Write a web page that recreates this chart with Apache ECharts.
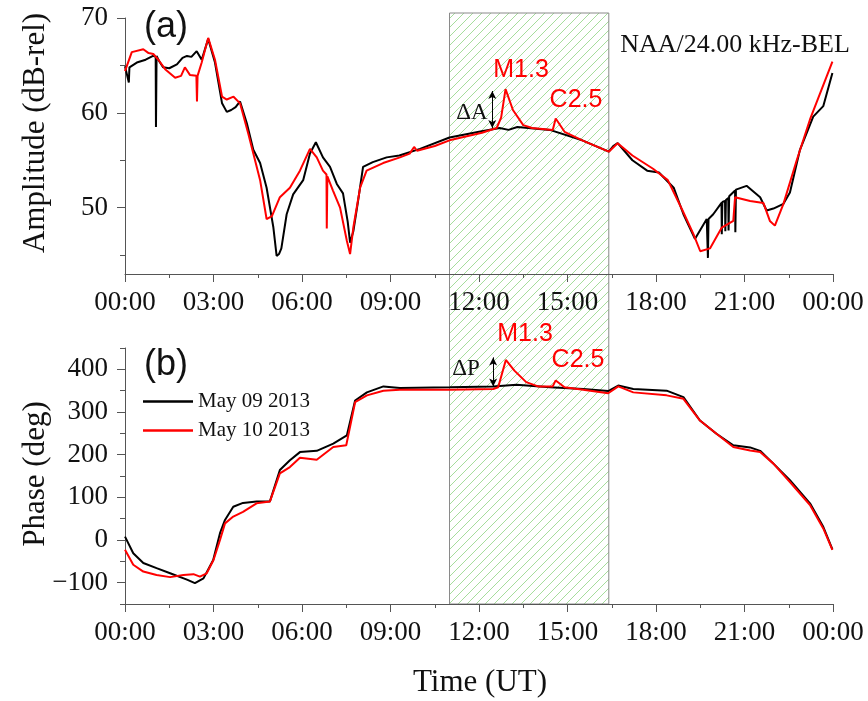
<!DOCTYPE html>
<html><head><meta charset="utf-8">
<script src="https://cdn.jsdelivr.net/npm/echarts@6/dist/echarts.min.js"></script>
<style>html,body{margin:0;padding:0;background:#fff}#c{width:868px;height:701px}</style>
</head><body><div id="c"></div>
<script>
// ---- data (hours UT, value) ----
const hourTickLabels = ['00:00','03:00','06:00','09:00','12:00','15:00','18:00','21:00','00:00'];
const ampTickLabels = [50, 60, 70];
const ampMinorTicks = [45, 55, 65];
const phaseTickLabels = [-100, 0, 100, 200, 300, 400];
const phaseMinorTicks = [-150, -50, 50, 150, 250, 350, 450];
const seriesNames = ['May 09 2013', 'May 10 2013'];
const flareWindow = [11.0, 16.4];

const ampMay09 = [[0,64.9],[0.05,64.7],[0.13,63.2],[0.15,64.8],[0.4,65.3],[0.7,65.6],[0.95,66.0],[1.04,65.9],[1.05,58.5],[1.07,66.0],[1.15,65.5],[1.29,64.8],[1.5,64.7],[1.76,65.1],[1.95,65.8],[2.1,66.0],[2.25,65.9],[2.43,66.5],[2.6,65.6],[2.82,67.8],[3.05,65.3],[3.29,61.0],[3.45,60.1],[3.6,60.3],[3.75,60.6],[3.9,61.2],[4.13,58.9],[4.35,56.1],[4.58,54.7],[4.8,52.1],[5.03,47.9],[5.14,44.9],[5.22,45.1],[5.3,45.7],[5.48,49.3],[5.7,51.4],[6.04,52.9],[6.27,55.7],[6.47,56.9],[6.71,55.3],[6.95,54.3],[7.18,52.5],[7.39,51.5],[7.55,48.5],[7.63,46.3],[7.74,47.5],[7.9,50.7],[8.07,54.3],[8.4,54.8],[8.87,55.3],[9.3,55.5],[10.0,56.2],[11.0,57.4],[12.0,58.0],[12.7,58.4],[13.0,58.2],[13.3,58.5],[14.4,58.2],[15.5,57.1],[16.4,55.9],[16.55,56.5],[16.7,56.8],[17.2,55.0],[17.7,53.9],[18.1,53.7],[18.6,52.1],[18.93,49.3],[19.32,46.7],[19.72,48.8],[19.76,44.7],[19.78,48.8],[19.94,49.3],[20.22,50.5],[20.23,47.2],[20.25,50.6],[20.34,50.7],[20.35,47.5],[20.37,50.8],[20.45,51.0],[20.46,47.6],[20.48,51.2],[20.68,51.8],[20.69,47.4],[20.71,51.9],[21.07,52.3],[21.53,51.1],[21.75,49.7],[21.98,49.9],[22.32,50.4],[22.54,51.6],[22.88,56.1],[23.33,59.6],[23.67,60.7],[23.98,64.2]];

const ampMay10 = [[0,64.4],[0.23,66.4],[0.62,66.7],[0.8,66.3],[0.96,66.2],[1.13,65.6],[1.36,64.6],[1.7,63.7],[1.9,63.9],[2.03,64.8],[2.2,64.0],[2.42,63.9],[2.44,61.2],[2.46,63.9],[2.6,65.3],[2.82,67.9],[3.05,65.6],[3.29,61.7],[3.45,61.4],[3.68,61.7],[3.9,61.0],[4.18,57.8],[4.35,55.7],[4.58,52.9],[4.8,48.8],[4.98,49.1],[5.25,51.1],[5.59,52.1],[5.93,53.9],[6.27,56.2],[6.5,55.3],[6.71,53.9],[6.83,53.5],[6.84,47.8],[6.86,53.3],[7.05,51.8],[7.29,50.0],[7.52,46.5],[7.63,45.1],[7.74,47.9],[7.97,52.1],[8.19,53.9],[8.75,54.7],[9.32,55.3],[9.65,55.7],[9.8,56.4],[9.9,56.0],[10.5,56.5],[11.0,57.1],[12.1,57.9],[12.6,58.4],[12.75,59.5],[12.9,62.5],[13.15,60.3],[13.5,58.7],[13.8,58.4],[14.5,58.2],[14.6,59.4],[14.9,58.0],[15.5,57.1],[16.4,55.9],[16.7,56.8],[17.2,55.5],[17.9,54.1],[18.4,52.9],[18.9,49.7],[19.27,47.2],[19.5,45.4],[19.83,45.7],[20.23,47.9],[20.62,48.6],[20.68,51.1],[21.19,50.7],[21.64,50.5],[21.86,48.6],[22.03,48.1],[22.32,50.4],[22.77,55.0],[23.22,59.3],[23.98,65.4]];

const phaseMay09 = [[0,8],[0.28,-31],[0.62,-54],[1.07,-66],[1.53,-78],[2.1,-93],[2.37,-101],[2.66,-90],[2.99,-47],[3.22,16],[3.39,47],[3.67,78],[4.0,87],[4.46,90],[4.91,90],[5.25,164],[5.59,187],[5.93,206],[6.5,209],[7.06,226],[7.52,245],[7.8,327],[8.2,346],[8.76,360],[9.32,356],[11.02,358],[12.48,360],[13.27,364],[14.41,358],[15.53,354],[16.38,349],[16.72,362],[17.23,354],[18.36,350],[18.93,335],[19.49,280],[20.05,249],[20.62,222],[21.19,217],[21.53,209],[21.98,179],[22.54,140],[23.22,86],[23.67,31],[23.98,-22]];

const phaseMay10 = [[0,-23],[0.28,-58],[0.62,-74],[1.07,-82],[1.53,-87],[1.98,-82],[2.32,-80],[2.54,-86],[2.77,-78],[3.0,-47],[3.22,0],[3.39,39],[3.67,55],[4.0,66],[4.46,86],[4.91,90],[5.25,156],[5.59,171],[5.93,193],[6.5,188],[7.06,218],[7.5,222],[7.8,323],[8.2,339],[8.76,350],[9.32,352],[11.02,352],[12.48,354],[12.65,358],[12.91,422],[13.2,397],[13.6,370],[14.0,360],[14.5,360],[14.6,374],[14.9,358],[15.53,352],[16.38,344],[16.72,360],[17.23,346],[18.36,339],[18.93,331],[19.49,280],[20.05,249],[20.62,218],[21.19,210],[21.53,206],[21.98,179],[22.54,136],[23.22,82],[23.67,27],[23.98,-23]];

const deltaAArrow = [[12.45, 62.3], [12.45, 58.4]];
const deltaPArrow = [[12.48, 428], [12.48, 360]];

// ---- chart ----
const SERIF = 'Liberation Serif';
const SANS = 'Liberation Sans';
const chart = echarts.init(document.getElementById('c'), null, {renderer: 'canvas'});

function xAxis(gridIndex) {
  return {
    type: 'value', gridIndex, min: 0, max: 24, interval: 3,
    axisLine: {show: true, onZero: false, lineStyle: {color: '#555', width: 1}},
    axisTick: {show: true, inside: false, length: 8, lineStyle: {color: '#555'}},
    minorTick: {show: true, splitNumber: 2, length: 4, lineStyle: {color: '#555'}},
    splitLine: {show: false},
    axisLabel: {margin: 15, color: '#111', fontFamily: SERIF, fontSize: 27,
      formatter: (v) => hourTickLabels[Math.round(v / 3)]}
  };
}
function yAxis(gridIndex, min, max, labels, ticks, showLabels, tickLen) {
  return {
    type: 'value', gridIndex, min, max, position: 'left',
    axisLine: {show: showLabels, onZero: false, lineStyle: {color: '#555', width: 1}},
    axisTick: {show: true, length: tickLen, customValues: ticks, lineStyle: {color: '#555'}},
    splitLine: {show: false},
    axisLabel: {show: showLabels, margin: 17, customValues: labels, color: '#111', fontFamily: SERIF, fontSize: 27,
      formatter: (v) => (v < 0 ? '\u2212' + Math.abs(v) : String(v))}
  };
}

const lineBase = {type: 'line', symbol: 'none', smooth: false, animation: false};
const arrowML = (pts) => ({
  silent: true, symbol: ['arrow', 'arrow'], symbolSize: [6, 8], animation: false,
  label: {show: false}, lineStyle: {color: '#000', width: 1, type: 'solid'},
  data: [[{coord: pts[0]}, {coord: pts[1]}]]
});

chart.setOption({
  animation: false,
  backgroundColor: '#fff',
  grid: [
    {left: 125, top: 18, width: 708, height: 256},
    {left: 125, top: 348, width: 708, height: 256}
  ],
  xAxis: [xAxis(0), xAxis(1)],
  yAxis: [
    yAxis(0, 43, 70, ampTickLabels, ampTickLabels, true, 8),
    yAxis(0, 43, 70, [], ampMinorTicks, false, 5),
    yAxis(1, -150, 450, phaseTickLabels, phaseTickLabels, true, 8),
    yAxis(1, -150, 450, [], phaseMinorTicks, false, 5)
  ],
  legend: {
    data: seriesNames, orient: 'vertical', left: 138, top: 386, icon: 'rect',
    itemWidth: 50, itemHeight: 2.5, itemGap: 8,
    textStyle: {fontFamily: SERIF, fontSize: 21, color: '#111', padding: [0, 0, 0, 0]}
  },
  series: [
    Object.assign({}, lineBase, {name: seriesNames[0], xAxisIndex: 0, yAxisIndex: 0, data: ampMay09, z: 4,
      lineStyle: {color: '#000', width: 2}, itemStyle: {color: '#000'}, markLine: arrowML(deltaAArrow)}),
    Object.assign({}, lineBase, {name: seriesNames[1], xAxisIndex: 0, yAxisIndex: 0, data: ampMay10, z: 5,
      lineStyle: {color: '#ff0000', width: 2}, itemStyle: {color: '#ff0000'}}),
    Object.assign({}, lineBase, {name: seriesNames[0], xAxisIndex: 1, yAxisIndex: 2, data: phaseMay09, z: 4,
      lineStyle: {color: '#000', width: 2}, itemStyle: {color: '#000'}, markLine: arrowML(deltaPArrow)}),
    Object.assign({}, lineBase, {name: seriesNames[1], xAxisIndex: 1, yAxisIndex: 2, data: phaseMay10, z: 5,
      lineStyle: {color: '#ff0000', width: 2}, itemStyle: {color: '#ff0000'}})
  ]
});

// hatched flare window spanning both panels
const pc = document.createElement('canvas');
pc.width = 9; pc.height = 9;
const g = pc.getContext('2d');
g.strokeStyle = '#a6dd9c'; g.lineWidth = 1;
g.beginPath();
g.moveTo(0, 9); g.lineTo(9, 0);
g.moveTo(-2, 2); g.lineTo(2, -2);
g.moveTo(7, 11); g.lineTo(11, 7);
g.stroke();

const x0 = chart.convertToPixel({xAxisIndex: 0}, flareWindow[0]);
const x1 = chart.convertToPixel({xAxisIndex: 0}, flareWindow[1]);
const yTop = chart.convertToPixel({yAxisIndex: 0}, 70) - 5;
const yBot = chart.convertToPixel({yAxisIndex: 2}, -150);

const txt = (x, y, text, size, color, family, extra) => Object.assign({
  type: 'text', x, y, silent: true, z: 10,
  style: {text, fill: color, font: size + 'px "' + family + '"', align: 'center', verticalAlign: 'middle'}
}, extra || {});

chart.setOption({
  graphic: [
    {type: 'rect', silent: true, z: -1, shape: {x: x0, y: yTop, width: x1 - x0, height: yBot - yTop},
      style: {fill: {image: pc, repeat: 'repeat'}, stroke: '#8a8a8a', lineWidth: 1}},
    txt(166, 27, '(a)', 36, '#111', SANS),
    txt(166, 365, '(b)', 36, '#111', SANS),
    txt(735, 45, 'NAA/24.00 kHz-BEL', 26, '#111', SERIF),
    txt(521, 70, 'M1.3', 25, '#ff0000', SANS),
    txt(576, 100, 'C2.5', 25, '#ff0000', SANS),
    txt(472, 113, '\u0394A', 23, '#111', SERIF),
    txt(525, 334, 'M1.3', 25, '#ff0000', SANS),
    txt(578, 360, 'C2.5', 25, '#ff0000', SANS),
    txt(466, 369, '\u0394P', 23, '#111', SERIF),
    txt(36, 133, 'Amplitude (dB-rel)', 31, '#111', SERIF, {rotation: Math.PI / 2}),
    txt(36, 474, 'Phase (deg)', 31, '#111', SERIF, {rotation: Math.PI / 2}),
    txt(480, 683, 'Time (UT)', 31, '#111', SERIF)
  ]
});
</script>
</body></html>
